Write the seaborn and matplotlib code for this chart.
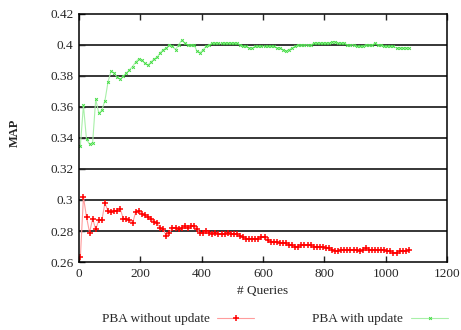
import pandas as pd
import matplotlib
matplotlib.use('Agg')
import matplotlib.pyplot as plt
import seaborn as sns

# queries (x) shared by both series
queries = list(range(5, 1076, 10))

map_without_update = [
    0.263, 0.302, 0.289, 0.279, 0.288, 0.281, 0.287, 0.287, 0.298, 0.293,
    0.292, 0.293, 0.293, 0.294, 0.288, 0.288, 0.287, 0.285, 0.292, 0.293,
    0.291, 0.290, 0.289, 0.288, 0.286, 0.285, 0.282, 0.281, 0.277, 0.279,
    0.282, 0.282, 0.281, 0.282, 0.283, 0.282, 0.283, 0.283, 0.281, 0.279,
    0.279, 0.280, 0.279, 0.278, 0.279, 0.278, 0.278, 0.278, 0.279, 0.278,
    0.278, 0.278, 0.277, 0.276, 0.275, 0.275, 0.275, 0.275, 0.275, 0.276,
    0.276, 0.274, 0.273, 0.273, 0.273, 0.272, 0.272, 0.272, 0.271, 0.271,
    0.270, 0.270, 0.271, 0.271, 0.271, 0.271, 0.270, 0.270, 0.270, 0.270,
    0.269, 0.269, 0.268, 0.267, 0.267, 0.268, 0.268, 0.268, 0.268, 0.268,
    0.268, 0.267, 0.268, 0.269, 0.268, 0.268, 0.268, 0.268, 0.268, 0.268,
    0.267, 0.267, 0.266, 0.266, 0.267, 0.267, 0.267, 0.268,
]

map_with_update = [
    0.335, 0.361, 0.339, 0.336, 0.337, 0.365, 0.356, 0.358, 0.364, 0.376,
    0.383, 0.382, 0.379, 0.378, 0.380, 0.382, 0.384, 0.386, 0.389, 0.391,
    0.390, 0.388, 0.387, 0.389, 0.391, 0.392, 0.395, 0.397, 0.398, 0.400,
    0.399, 0.397, 0.400, 0.403, 0.401, 0.400, 0.400, 0.400, 0.396, 0.395,
    0.397, 0.399, 0.400, 0.401, 0.401, 0.401, 0.401, 0.401, 0.401, 0.401,
    0.401, 0.401, 0.400, 0.399, 0.399, 0.398, 0.398, 0.399, 0.399, 0.399,
    0.399, 0.399, 0.399, 0.399, 0.398, 0.398, 0.397, 0.396, 0.397, 0.398,
    0.399, 0.400, 0.400, 0.400, 0.400, 0.400, 0.401, 0.401, 0.401, 0.401,
    0.401, 0.401, 0.402, 0.402, 0.401, 0.401, 0.401, 0.400, 0.400, 0.400,
    0.399, 0.399, 0.399, 0.400, 0.400, 0.400, 0.401, 0.400, 0.400, 0.399,
    0.399, 0.399, 0.399, 0.398, 0.398, 0.398, 0.398, 0.398,
]

x_ticks = [0, 200, 400, 600, 800, 1000, 1200]
y_ticks = [0.26, 0.28, 0.30, 0.32, 0.34, 0.36, 0.38, 0.40, 0.42]
y_tick_labels = ['0.26', '0.28', '0.3', '0.32', '0.34', '0.36', '0.38', '0.4', '0.42']

df = pd.DataFrame({'queries': queries,
                   'without': map_without_update,
                   'with': map_with_update})

sns.set_style('white')
plt.rcParams['font.family'] = ['Liberation Serif', 'DejaVu Serif']

fig = plt.figure(figsize=(4.61, 3.30), dpi=100)
ax = fig.add_axes([0.171, 0.206, 0.799, 0.752])

for y in y_ticks[1:-1]:
    ax.axhline(y, color='black', lw=1.1, zorder=0)

sns.lineplot(data=df, x='queries', y='without', ax=ax, color='#ff9c9c', lw=0.8,
             marker='+', markersize=5, markeredgewidth=1.1,
             markeredgecolor='red', label='PBA without update')
sns.lineplot(data=df, x='queries', y='with', ax=ax, color='#a8f0a8', lw=0.8,
             marker='x', markersize=2, markeredgewidth=0.7,
             markeredgecolor='#44dd44', label='PBA with update')

ax.set_xlim(0, 1200)
ax.set_ylim(0.26, 0.42)
ax.set_xticks(x_ticks)
ax.set_yticks(y_ticks)
ax.set_yticklabels(y_tick_labels)
ax.tick_params(direction='in', length=4, width=1, labelsize=9.5, top=True,
               right=False, bottom=True, left=True, pad=4)
for s in ax.spines.values():
    s.set_color('black')
    s.set_linewidth(1.1)

ax.set_xlabel('# Queries', fontsize=9.5, labelpad=4)
ax.set_ylabel('MAP', fontsize=9, fontweight='bold')
ax.yaxis.set_label_coords(-0.158, 0.52)

ax.legend_.remove()
handles, labels = ax.get_legend_handles_labels()
fig.legend(handles, labels, ncol=2, loc='lower right', bbox_to_anchor=(0.998, -0.022),
           frameon=False, markerfirst=False, fontsize=9.5, handlelength=2.8,
           columnspacing=4.4, handletextpad=0.6)

fig.savefig('out.png', dpi=100)
